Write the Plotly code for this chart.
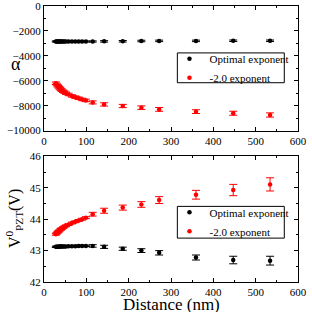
import plotly.graph_objects as go
from plotly.subplots import make_subplots

distance = [28, 30, 32, 34, 36, 38, 40, 42, 45, 48, 52, 58, 66, 74, 82, 90, 99, 115, 142, 186, 230, 272, 359, 447, 534]

alpha_opt = [-2850, -2850, -2850, -2850, -2850, -2850, -2850, -2850, -2850, -2850, -2850, -2850, -2850, -2850,
             -2850, -2850, -2850, -2850, -2840, -2830, -2810, -2800, -2800, -2790, -2790]
alpha_opt_err = [40] * 17 + [50, 60, 60, 60, 60, 60, 60, 60]

alpha_m2 = [-6200, -6300, -6400, -6480, -6560, -6630, -6700, -6760, -6840, -6910, -7000, -7100, -7220, -7320,
            -7410, -7500, -7580, -7740, -7900, -8030, -8160, -8300, -8480, -8610, -8750]
alpha_m2_err = [100] * 17 + [120, 130, 130, 140, 150, 150, 160, 170]

v_opt = [43.12, 43.12, 43.12, 43.12, 43.13, 43.13, 43.13, 43.13, 43.13, 43.13, 43.13, 43.14, 43.14, 43.14,
         43.15, 43.15, 43.15, 43.15, 43.12, 43.06, 43.00, 42.93, 42.78, 42.70, 42.68]
v_opt_err = [0.02] * 17 + [0.04, 0.05, 0.05, 0.06, 0.07, 0.08, 0.12, 0.14]

v_m2 = [43.52, 43.55, 43.58, 43.61, 43.63, 43.66, 43.68, 43.70, 43.73, 43.76, 43.79, 43.83, 43.88, 43.92,
        43.96, 44.00, 44.05, 44.16, 44.27, 44.37, 44.47, 44.61, 44.78, 44.93, 45.11]
v_m2_err = [0.03] * 17 + [0.06, 0.08, 0.08, 0.09, 0.11, 0.14, 0.18, 0.21]

FONT = "Liberation Serif"

fig = make_subplots(rows=2, cols=1, vertical_spacing=0.094)

def add(x, y, err, color, name, row, legend):
    fig.add_trace(go.Scatter(
        x=x, y=y, mode="markers", name=name,
        marker=dict(color=color, size=4.5, symbol="circle"),
        error_y=dict(type="data", array=err, color=color, thickness=1, width=4, visible=True),
        legend=legend, showlegend=True,
    ), row=row, col=1)

add(distance, alpha_opt, alpha_opt_err, "black", "Optimal exponent", 1, "legend")
add(distance, alpha_m2, alpha_m2_err, "red", "-2.0 exponent", 1, "legend")
add(distance, v_opt, v_opt_err, "black", "Optimal exponent", 2, "legend2")
add(distance, v_m2, v_m2_err, "red", "-2.0 exponent", 2, "legend2")

axis_common = dict(showline=True, linecolor="black", linewidth=1, mirror="ticks",
                   ticks="inside", ticklen=4, tickcolor="black", showgrid=False, zeroline=False,
                   tickfont=dict(family=FONT, size=11, color="black"))

fig.update_xaxes(range=[0, 600], dtick=100, minor=dict(ticks="inside", dtick=50, ticklen=2, tickcolor="black"),
                 **axis_common)
fig.update_yaxes(automargin=False, ticklabeloverflow="allow", **axis_common)
fig.update_yaxes(range=[-10000, 0], dtick=2000, tickformat="d",
                 minor=dict(ticks="inside", dtick=1000, ticklen=2, tickcolor="black"),
                 row=1, col=1)
fig.update_yaxes(range=[42, 46], dtick=1, minor=dict(ticks="inside", dtick=0.5, ticklen=2, tickcolor="black"),
                 row=2, col=1)

legend_style = dict(xanchor="left", yanchor="top", borderwidth=0, bgcolor="rgba(0,0,0,0)",
                    font=dict(family=FONT, size=11, color="black"), itemwidth=30, tracegroupgap=0)

fig.update_layout(
    width=312, height=312,
    margin=dict(l=44, r=9, t=5, b=30),
    paper_bgcolor="white", plot_bgcolor="white",
    font=dict(family=FONT, color="black"),
    yaxis=dict(domain=[0.5487, 1.0]),
    yaxis2=dict(domain=[0.0, 0.4549]),
    legend=dict(x=0.494, y=0.861, **legend_style),
    legend2=dict(x=0.494, y=0.305, **legend_style),
    shapes=[
        dict(type="rect", xref="paper", yref="paper", x0=0.525, x1=0.946, y0=0.722, y1=0.830,
             line=dict(color="black", width=1), fillcolor="white", layer="above"),
        dict(type="rect", xref="paper", yref="paper", x0=0.525, x1=0.946, y0=0.159, y1=0.274,
             line=dict(color="black", width=1), fillcolor="white", layer="above"),
    ],
    annotations=[
        dict(text="α", xref="paper", yref="paper", x=-0.112, y=0.79, showarrow=False,
             font=dict(family=FONT, size=18, color="black"), xanchor="center", yanchor="middle"),
        dict(text="V<sup>0</sup><sub>PZT</sub>(V)", xref="paper", yref="paper", x=-0.12, y=0.23,
             showarrow=False, textangle=-90,
             font=dict(family=FONT, size=16, color="black"), xanchor="center", yanchor="middle"),
        dict(text="Distance (nm)", xref="paper", yref="paper", x=0.5, y=-0.080, showarrow=False,
             font=dict(family=FONT, size=17, color="black"), xanchor="center", yanchor="middle"),
    ],
)

fig.write_html("out.html", config={"displayModeBar": False},
               post_script="document.body.style.margin='0';document.body.style.overflow='hidden';")
